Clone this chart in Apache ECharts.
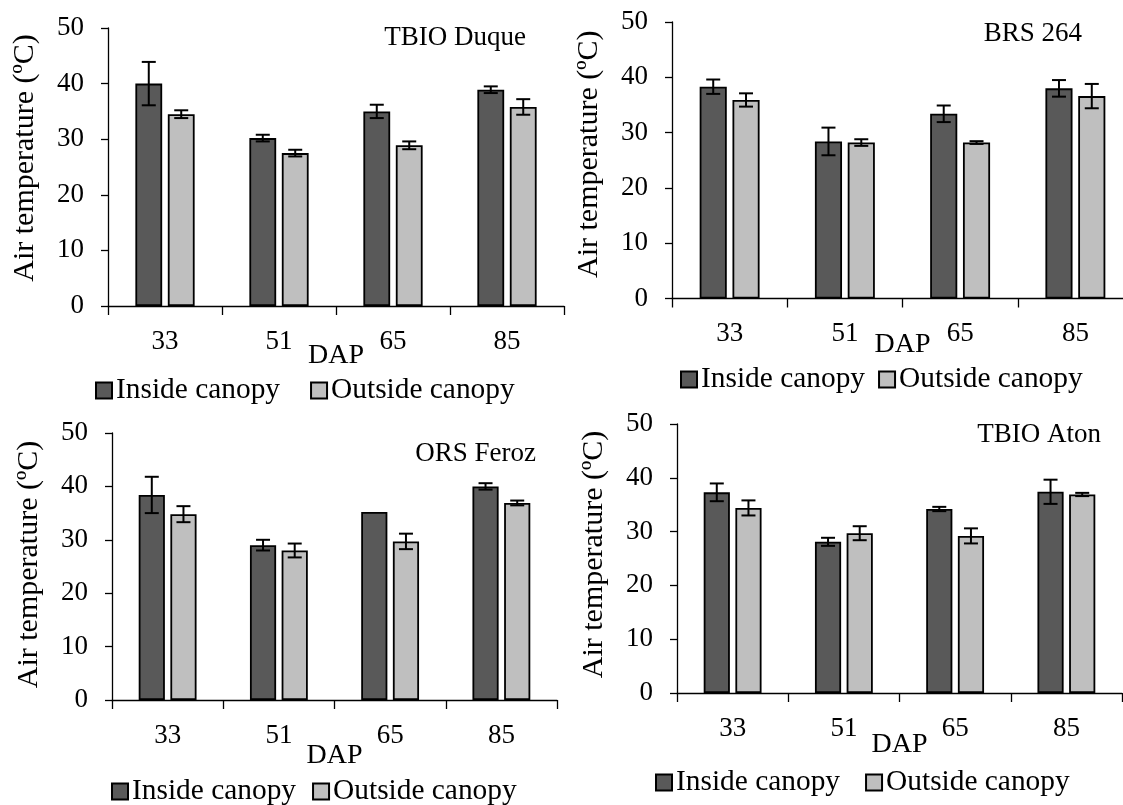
<!DOCTYPE html>
<html>
<head>
<meta charset="utf-8">
<script src="https://cdn.jsdelivr.net/npm/echarts@6/dist/echarts.min.js"></script>
<style>
  html, body { margin: 0; padding: 0; background: #fff; }
  #chart { width: 1123px; height: 805px; }
</style>
</head>
<body>
<div id="chart"></div>
<script>
// Days after planting (DAP)
const categories = ['33', '51', '65', '85'];
const seriesNames = ['Inside canopy', 'Outside canopy'];
const yTicks = [0, 10, 20, 30, 40, 50];

// Mean air temperature (ºC) and error per cultivar
const duqueInside = [40.0, 30.2, 35.0, 38.9];
const duqueInsideErr = [3.9, 0.6, 1.2, 0.6];
const duqueOutside = [34.5, 27.5, 28.9, 35.8];
const duqueOutsideErr = [0.7, 0.6, 0.7, 1.4];

const brsInside = [38.3, 28.4, 33.4, 38.0];
const brsInsideErr = [1.3, 2.5, 1.5, 1.5];
const brsOutside = [35.9, 28.2, 28.2, 36.6];
const brsOutsideErr = [1.2, 0.6, 0.25, 2.2];

const ferozInside = [38.4, 29.0, 35.2, 40.0];
const ferozInsideErr = [3.4, 1.0, 0, 0.6];
const ferozOutside = [34.8, 28.0, 29.7, 36.9];
const ferozOutsideErr = [1.5, 1.3, 1.45, 0.45];

const atonInside = [37.3, 28.1, 34.2, 37.4];
const atonInsideErr = [1.65, 0.75, 0.4, 2.25];
const atonOutside = [34.4, 29.7, 29.2, 36.9];
const atonOutsideErr = [1.4, 1.3, 1.4, 0.3];

const cultivars = [
  { title: 'TBIO Duque', inside: duqueInside, insideErr: duqueInsideErr, outside: duqueOutside, outsideErr: duqueOutsideErr },
  { title: 'BRS 264',   inside: brsInside,   insideErr: brsInsideErr,   outside: brsOutside,   outsideErr: brsOutsideErr },
  { title: 'ORS Feroz', inside: ferozInside, insideErr: ferozInsideErr, outside: ferozOutside, outsideErr: ferozOutsideErr },
  { title: 'TBIO Aton', inside: atonInside,  insideErr: atonInsideErr,  outside: atonOutside,  outsideErr: atonOutsideErr }
];

// Panel placement (pixels); nameShift moves the y-axis title up along its axis
const layout = [
  { grid: { left: 108, top: 28, width: 456, height: 278 },   title: { right: 597, top: 24 },  legend: { left: 95,  top: 376, itemGap: 30 }, nameGap: 36, nameShift: 9 },
  { grid: { left: 672, top: 22, width: 461, height: 276.5 }, title: { right: 41, top: 20 },   legend: { left: 680, top: 365, itemGap: 13 }, nameGap: 32, nameShift: 6 },
  { grid: { left: 112, top: 433, width: 445, height: 267 },  title: { right: 587, top: 440 }, legend: { left: 111, top: 777, itemGap: 16 }, nameGap: 42, nameShift: 2 },
  { grid: { left: 677, top: 424, width: 445, height: 269 },  title: { right: 22, top: 421 },  legend: { left: 655, top: 768, itemGap: 25 }, nameGap: 38, nameShift: 4 }
];

const FONT = '"Liberation Serif", "Times New Roman", serif';
const INK = '#000';
const DARK = '#595959';
const LIGHT = '#BFBFBF';
const BAR_CAT_GAP = 0.48;  // fraction of band left empty
const BAR_GAP = 0.21;      // gap between the two bars, relative to bar width

function errorBarRenderer(side) {
  return function (params, api) {
    const idx = api.value(0);
    const mean = api.value(1);
    const err = api.value(2);
    if (!(err > 0)) return null;
    const band = api.size([1, 0])[0];
    const w = band * (1 - BAR_CAT_GAP) / (2 + BAR_GAP);
    const x = api.coord([idx, mean])[0] + side * (w + BAR_GAP * w) / 2;
    const yTop = api.coord([idx, mean + err])[1];
    const yBot = api.coord([idx, mean - err])[1];
    const cap = 7;
    const style = { stroke: INK, lineWidth: 2 };
    return {
      type: 'group',
      children: [
        { type: 'line', shape: { x1: x, y1: yTop, x2: x, y2: yBot }, style },
        { type: 'line', shape: { x1: x - cap, y1: yTop, x2: x + cap, y2: yTop }, style },
        { type: 'line', shape: { x1: x - cap, y1: yBot, x2: x + cap, y2: yBot }, style }
      ]
    };
  };
}

const option = {
  animation: false,
  backgroundColor: '#fff',
  textStyle: { fontFamily: FONT, color: INK },
  title: [], legend: [], grid: [], xAxis: [], yAxis: [], series: []
};

cultivars.forEach((c, i) => {
  const L = layout[i];
  option.grid.push(Object.assign({ containLabel: false, outerBoundsMode: 'none' }, L.grid));
  option.title.push({
    text: c.title, right: L.title.right, top: L.title.top, padding: 0,
    textStyle: { fontFamily: FONT, fontSize: 27, fontWeight: 'normal', color: INK }
  });
  option.legend.push({
    data: seriesNames, left: L.legend.left, top: L.legend.top, itemGap: L.legend.itemGap,
    padding: 0, icon: 'rect', itemWidth: 16, itemHeight: 16, selectedMode: false,
    textStyle: { fontFamily: FONT, fontSize: 29.4, color: INK, padding: [0, 0, 0, -1] }
  });
  option.xAxis.push({
    type: 'category', gridIndex: i, data: categories,
    name: 'DAP', nameLocation: 'middle', nameGap: L.nameGap, nameMoveOverlap: false,
    nameTextStyle: { fontFamily: FONT, fontSize: 28, color: INK },
    axisLine: { show: true, lineStyle: { color: INK, width: 1.3 } },
    axisTick: { show: true, length: 9, alignWithLabel: false, lineStyle: { color: INK, width: 1.3 } },
    axisLabel: { fontFamily: FONT, fontSize: 27, color: INK, margin: 22 },
    splitLine: { show: false }
  });
  option.yAxis.push({
    type: 'value', gridIndex: i, min: yTicks[0], max: yTicks[yTicks.length - 1], interval: 10,
    name: 'Air temperature (ºC)', nameLocation: 'middle', nameGap: 68, nameMoveOverlap: false,
    nameTextStyle: { fontFamily: FONT, fontSize: 30, color: INK, padding: [0, 0, 0, 2 * L.nameShift] },
    axisLine: { show: true, lineStyle: { color: INK, width: 1.3 } },
    axisTick: { show: true, length: 7, lineStyle: { color: INK, width: 1.3 } },
    axisLabel: { fontFamily: FONT, fontSize: 27, color: INK, margin: 24 },
    splitLine: { show: false }
  });

  const groups = [
    { name: seriesNames[0], values: c.inside, errs: c.insideErr, color: DARK, side: -1 },
    { name: seriesNames[1], values: c.outside, errs: c.outsideErr, color: LIGHT, side: 1 }
  ];
  groups.forEach(g => {
    option.series.push({
      type: 'bar', name: g.name, xAxisIndex: i, yAxisIndex: i, data: g.values,
      barCategoryGap: (BAR_CAT_GAP * 100) + '%', barGap: (BAR_GAP * 100) + '%',
      itemStyle: { color: g.color, borderColor: INK, borderWidth: 1.8 },
      emphasis: { disabled: true }
    });
  });
  groups.forEach(g => {
    option.series.push({
      type: 'custom', name: g.name + ' error', xAxisIndex: i, yAxisIndex: i, z: 5,
      renderItem: errorBarRenderer(g.side),
      encode: { x: 0, y: 1 },
      data: g.values.map((v, k) => [k, v, g.errs[k]]),
      silent: true
    });
  });
});

const chart = echarts.init(document.getElementById('chart'), null, { renderer: 'canvas' });
chart.setOption(option);
</script>
</body>
</html>
